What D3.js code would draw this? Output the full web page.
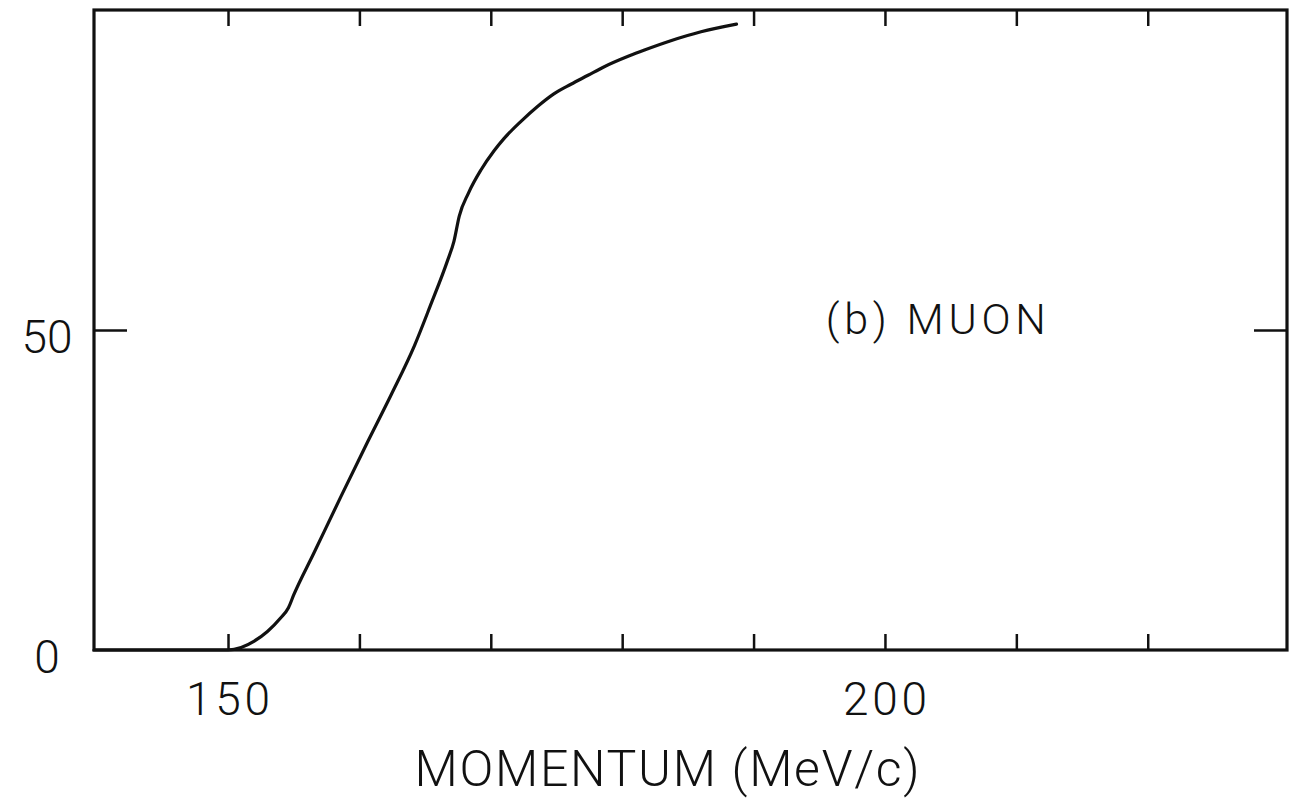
<!DOCTYPE html>
<html>
<head>
<meta charset="utf-8">
<script src="https://cdn.jsdelivr.net/npm/d3@7"></script>
<style>
  html, body { margin: 0; padding: 0; background: #fff; }
  svg { display: block; }
  text { font-family: Roboto, "DejaVu Sans", sans-serif; font-weight: 300; fill: #111; }
</style>
</head>
<body>
<svg id="chart" width="1290" height="805"></svg>
<script>
// Muon acceptance vs momentum
const momentum = [139.8, 145, 150, 151.0, 152.0, 153.0, 154.0, 154.6, 155.0, 156.5, 158.6, 160.5,
  162.4, 164.2, 165.4, 166.7, 167.2, 167.6, 168.3, 169.25, 170.25, 171.0, 172.3, 173.6,
  174.8, 176.1, 177.4, 178.6, 180.5, 181.7, 183.7, 186.0, 188.7];
const acceptance = [0, 0, 0, 0.4, 1.4, 2.9, 5.0, 6.6, 8.6, 15.0, 24.0, 32.0,
  39.8, 47.6, 53.8, 60.8, 63.9, 67.8, 71.4, 75.0, 78.0, 79.9, 82.6, 85.0,
  86.9, 88.4, 89.8, 91.1, 92.8, 93.75, 95.2, 96.6, 97.8];

const xTicks = [150, 160, 170, 180, 190, 200, 210, 220];
const xTickLabels = [150, 200];
const yTicks = [50];
const yTickLabels = [0, 50];
const xTitle = "MOMENTUM (MeV/c)";
const panelLabel = "(b) MUON";

(function () {
  const svg = d3.select("#chart");
  const mLeft = 94, mRight = 1287, mTop = 10, mBottom = 650;

  const x = d3.scaleLinear().domain([139.8, 230.6]).range([mLeft, mRight]);
  const y = d3.scaleLinear().domain([0, 100]).range([mBottom, mTop]);

  const ink = "#111";

  // frame
  svg.append("rect")
    .attr("x", mLeft).attr("y", mTop)
    .attr("width", mRight - mLeft).attr("height", mBottom - mTop)
    .attr("fill", "none").attr("stroke", ink).attr("stroke-width", 3.2);

  // inward ticks on bottom and top
  const tickLen = 16;
  const gb = svg.append("g").attr("transform", `translate(0,${mBottom})`)
    .call(d3.axisTop(x).tickValues(xTicks).tickSize(tickLen).tickFormat(""));
  const gt = svg.append("g").attr("transform", `translate(0,${mTop})`)
    .call(d3.axisBottom(x).tickValues(xTicks).tickSize(tickLen).tickFormat(""));

  // inward ticks on left and right
  const yTickLen = 33;
  const yl = svg.append("g").attr("transform", `translate(${mLeft},0)`)
    .call(d3.axisRight(y).tickValues(yTicks).tickSize(yTickLen).tickFormat(""));
  const yr = svg.append("g").attr("transform", `translate(${mRight},0)`)
    .call(d3.axisLeft(y).tickValues(yTicks).tickSize(yTickLen).tickFormat(""));

  [gb, gt, yl, yr].forEach(g => {
    g.select(".domain").remove();
    g.selectAll(".tick line").attr("stroke", ink).attr("stroke-width", 2.5);
  });

  // tick labels
  svg.append("g").selectAll("text").data(xTickLabels).join("text")
    .attr("x", d => x(d)).attr("y", mBottom + 65)
    .attr("text-anchor", "middle").attr("font-size", 46)
    .attr("textLength", 84).attr("lengthAdjust", "spacing")
    .text(d => d);

  svg.append("g").selectAll("text").data(yTickLabels).join("text")
    .attr("x", mLeft - 47).attr("y", d => y(d) + 23)
    .attr("text-anchor", "middle").attr("font-size", 46)
    .text(d => d);

  // axis title
  svg.append("text")
    .attr("x", 667).attr("y", 786)
    .attr("text-anchor", "middle").attr("font-size", 50)
    .attr("textLength", 505).attr("lengthAdjust", "spacing")
    .text(xTitle);

  // panel label
  svg.append("text")
    .attr("x", x(195.5)).attr("y", y(49.4))
    .attr("text-anchor", "start").attr("font-size", 43)
    .attr("textLength", 220).attr("lengthAdjust", "spacing")
    .text(panelLabel);

  // curve
  const line = d3.line()
    .x((d, i) => x(momentum[i]))
    .y(d => y(d))
    .curve(d3.curveMonotoneX);

  svg.append("path")
    .datum(acceptance)
    .attr("d", line)
    .attr("fill", "none")
    .attr("stroke", ink)
    .attr("stroke-width", 3.2)
    .attr("stroke-linecap", "round");
})();
</script>
</body>
</html>
